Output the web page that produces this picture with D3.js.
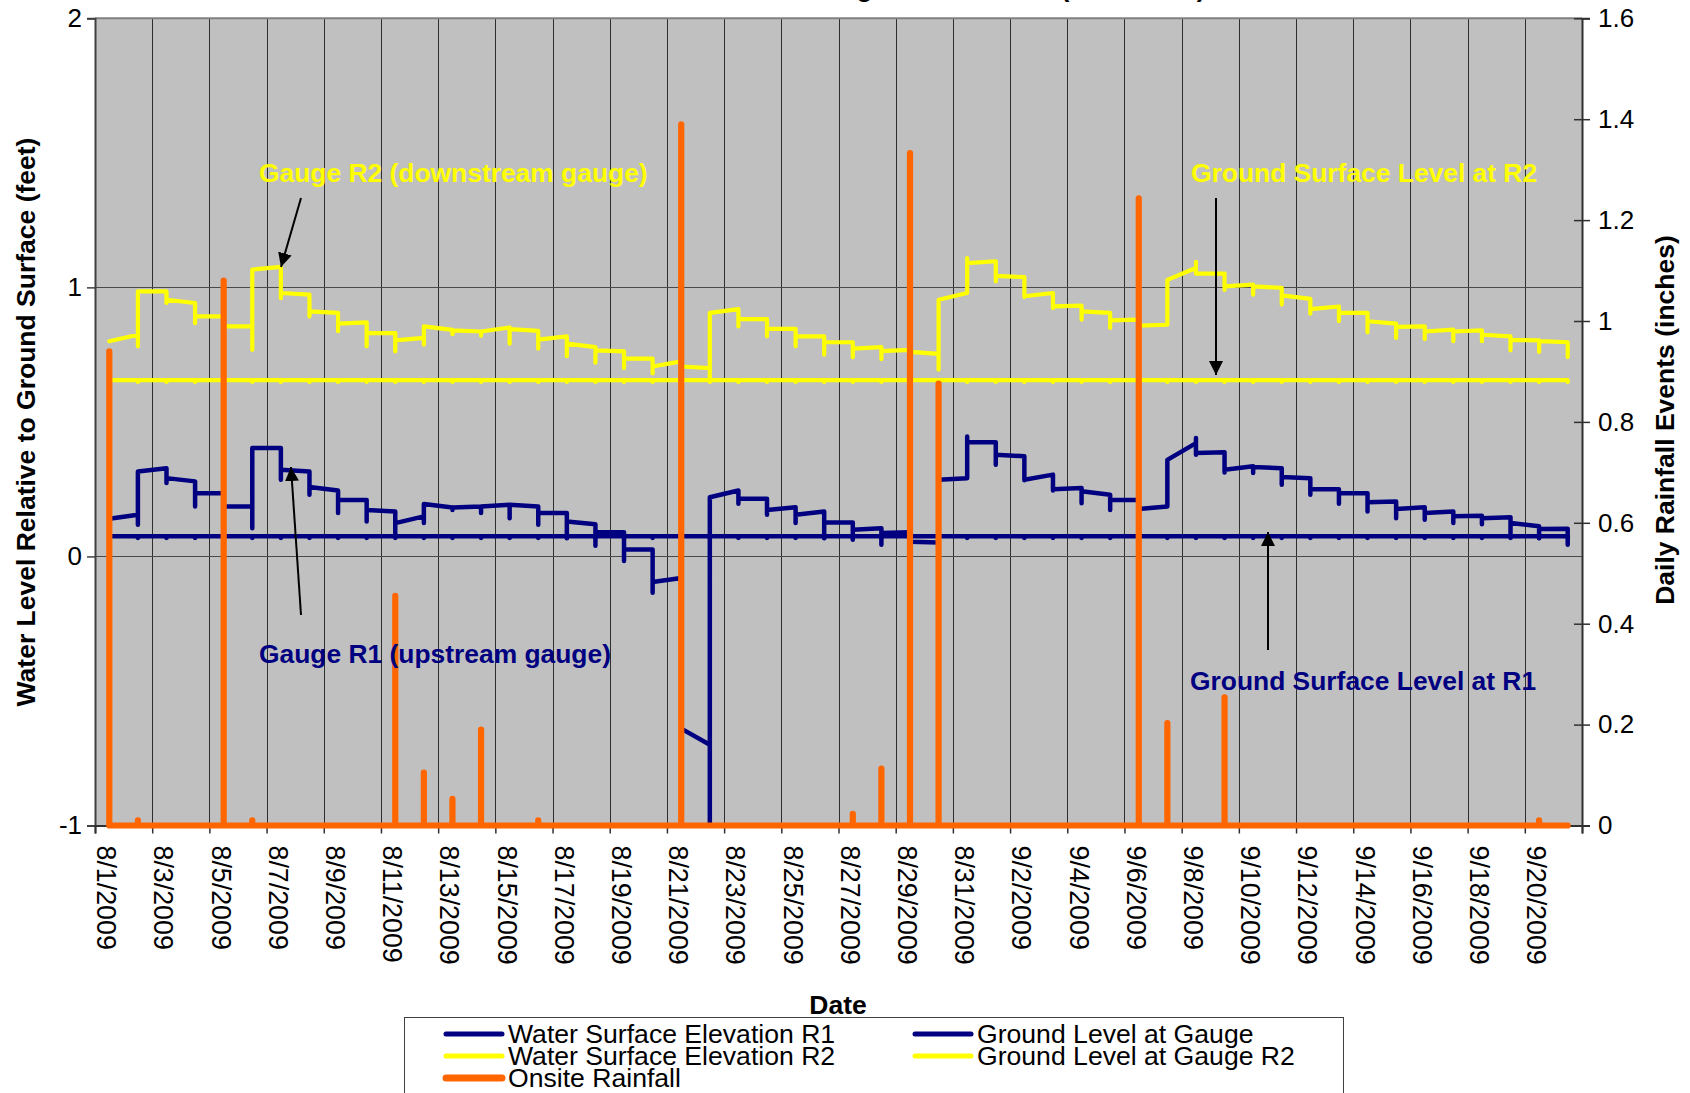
<!DOCTYPE html>
<html>
<head>
<meta charset="utf-8">
<script src="https://cdn.jsdelivr.net/npm/d3@7"></script>
<style>
  body { margin: 0; background: #ffffff; }
  svg { display: block; }
  text { font-family: "Liberation Sans", Arial, Helvetica, sans-serif; }
</style>
</head>
<body>
<svg id="chart" width="1690" height="1093"></svg>
<script>
// ---- Data -------------------------------------------------------------
// Calendar days of the record (one slot per day on the date axis)
const days = [
  "2009-08-01","2009-08-02","2009-08-03","2009-08-04","2009-08-05","2009-08-06","2009-08-07",
  "2009-08-08","2009-08-09","2009-08-10","2009-08-11","2009-08-12","2009-08-13","2009-08-14",
  "2009-08-15","2009-08-16","2009-08-17","2009-08-18","2009-08-19","2009-08-20","2009-08-21",
  "2009-08-22","2009-08-23","2009-08-24","2009-08-25","2009-08-26","2009-08-27","2009-08-28",
  "2009-08-29","2009-08-30","2009-08-31","2009-09-01","2009-09-02","2009-09-03","2009-09-04",
  "2009-09-05","2009-09-06","2009-09-07","2009-09-08","2009-09-09","2009-09-10","2009-09-11",
  "2009-09-12","2009-09-13","2009-09-14","2009-09-15","2009-09-16","2009-09-17","2009-09-18",
  "2009-09-19","2009-09-20","2009-09-21"
];

// Water surface at R1 (ft relative to ground), readings of each day in logged order
const r1Readings = [
  [0.14], [0.155, 0.118, 0.316], [0.328, 0.273, 0.291], [0.279, 0.186, 0.235],
  [0.235, 0.186], [0.186, 0.105, 0.403], [0.403, 0.285, 0.322], [0.316, 0.229, 0.258],
  [0.245, 0.161, 0.21], [0.21, 0.13, 0.173], [0.167, 0.074, 0.124], [0.149, 0.124, 0.195],
  [0.182, 0.173, 0.182], [0.186, 0.161, 0.186], [0.192, 0.142, 0.192], [0.186, 0.118, 0.161],
  [0.161, 0.068, 0.13], [0.12, 0.04, 0.09], [0.09, -0.017, 0.026], [0.026, -0.135, -0.095],
  [-0.08, -0.64], [-0.70, -1.0, 0.22], [0.245, 0.196, 0.214], [0.214, 0.155, 0.173],
  [0.183, 0.124, 0.155], [0.167, 0.068, 0.126], [0.126, 0.062, 0.099], [0.105, 0.043, 0.087],
  [0.09, 0.055], [0.052, 0.285], [0.291, 0.446, 0.424], [0.424, 0.341, 0.378],
  [0.372, 0.283, 0.285], [0.304, 0.245, 0.25], [0.254, 0.198, 0.242], [0.229, 0.173, 0.21],
  [0.21, 0.176], [0.186, 0.359], [0.421, 0.44, 0.378, 0.384], [0.387, 0.312, 0.322],
  [0.335, 0.31, 0.332], [0.328, 0.266, 0.295], [0.291, 0.229, 0.25], [0.25, 0.196, 0.235],
  [0.235, 0.167, 0.201], [0.204, 0.142, 0.176], [0.183, 0.136, 0.161], [0.167, 0.124, 0.149],
  [0.151, 0.12, 0.142], [0.146, 0.072, 0.124], [0.112, 0.068, 0.102], [0.103, 0.043]
];

// Water surface at R2 (ft relative to ground)
const r2Readings = [
  [0.80], [0.824, 0.781, 0.985], [0.985, 0.942, 0.954], [0.942, 0.867, 0.892],
  [0.892, 0.855], [0.855, 0.768, 1.066], [1.076, 0.96, 0.979], [0.973, 0.892, 0.911],
  [0.905, 0.837, 0.865], [0.87, 0.781, 0.83], [0.83, 0.762, 0.803], [0.812, 0.787, 0.855],
  [0.842, 0.826, 0.84], [0.836, 0.82, 0.836], [0.851, 0.79, 0.845], [0.838, 0.772, 0.806],
  [0.818, 0.744, 0.791], [0.778, 0.72, 0.766], [0.762, 0.70, 0.735], [0.735, 0.68, 0.706],
  [0.725, 0.706], [0.70, 0.651, 0.905], [0.919, 0.855, 0.882], [0.882, 0.818, 0.846],
  [0.846, 0.781, 0.818], [0.818, 0.75, 0.796], [0.796, 0.74, 0.772], [0.778, 0.733, 0.763],
  [0.768, 0.76], [0.753, 0.694, 0.954], [0.979, 1.109, 1.09], [1.097, 1.022, 1.043],
  [1.038, 0.964, 0.967], [0.979, 0.923, 0.929], [0.932, 0.88, 0.911], [0.905, 0.849, 0.877],
  [0.88, 0.858], [0.861, 1.028], [1.072, 1.095, 1.051], [1.051, 0.991, 1.004],
  [1.01, 0.973, 1.004], [0.998, 0.936, 0.97], [0.957, 0.902, 0.919], [0.929, 0.874, 0.905],
  [0.905, 0.833, 0.874], [0.865, 0.812, 0.853], [0.855, 0.808, 0.836], [0.843, 0.80, 0.836],
  [0.84, 0.80, 0.824], [0.818, 0.766, 0.805], [0.803, 0.76, 0.80], [0.796, 0.741]
];

// Ground surface at each gauge (ft, same datum)
const groundR1 = 0.075;
const groundR2 = 0.655;

// Daily onsite rainfall (inches)
const rainfall = [
  0.94, 0.01, 0, 0, 1.08, 0.01, 0, 0, 0, 0,
  0.455, 0.105, 0.053, 0.19, 0, 0.01, 0, 0, 0, 0,
  1.39, 0, 0, 0, 0, 0, 0.023, 0.113, 1.333, 0.876,
  0, 0, 0, 0, 0, 0, 1.243, 0.203, 0, 0.254,
  0, 0, 0, 0, 0, 0, 0, 0, 0, 0,
  0.01, 0
];

const leftTicks = [-1, 0, 1, 2];
const rightTicks = [0, 0.2, 0.4, 0.6, 0.8, 1, 1.2, 1.4, 1.6];

// ---- Layout -----------------------------------------------------------
const W = 1690, H = 1093;
const L = 95, R = 1582, T = 18.3, B = 825.5;
const NAVY = "#000080", YELLOW = "#FFFF00", ORANGE = "#FF6600";

const svg = d3.select("#chart");
const parse = d3.utcParse("%Y-%m-%d");
const dayDates = days.map(parse);
const endDate = d3.utcDay.offset(dayDates[dayDates.length - 1], 1);

const x = d3.scaleUtc().domain([dayDates[0], endDate]).range([L, R]);
const yL = d3.scaleLinear().domain([-1, 2]).range([B, T]);
const yR = d3.scaleLinear().domain([0, 1.6]).range([B, T]);
const xc = i => x(d3.utcHour.offset(dayDates[i], 12));   // centre of a day slot

// every second day boundary carries a gridline / tick
const gridDates = d3.utcDay.range(dayDates[0], d3.utcDay.offset(endDate, 1), 2);
const labelIdx = days.map((d, i) => i).filter(i => i % 2 === 0);
const fmt = d3.utcFormat("%-m/%-d/%Y");

// ---- Plot area ----------------------------------------------------------
svg.append("rect").attr("width", W).attr("height", H).attr("fill", "#ffffff");
svg.append("rect").attr("x", L).attr("y", T).attr("width", R - L).attr("height", B - T)
  .attr("fill", "#C0C0C0");

// chart title, mostly above the top edge of the page
svg.append("text").attr("x", 958).attr("y", -3.5).attr("text-anchor", "middle")
  .attr("font-size", 26).attr("font-weight", "bold").attr("fill", "#000")
  .text("Stream Gauge Water Levels (R1 and R2)");

// vertical gridlines
svg.append("g").selectAll("line").data(gridDates.slice(1, -1)).join("line")
  .attr("x1", d => Math.round(x(d)) + 0.5).attr("x2", d => Math.round(x(d)) + 0.5)
  .attr("y1", T).attr("y2", B).attr("stroke", "#2e2e2e").attr("stroke-width", 1);

// horizontal gridlines (primary axis major unit)
svg.append("g").selectAll("line").data([0, 1]).join("line")
  .attr("x1", L).attr("x2", R)
  .attr("y1", d => Math.round(yL(d)) + 0.5).attr("y2", d => Math.round(yL(d)) + 0.5)
  .attr("stroke", "#4a4a4a").attr("stroke-width", 1);

// top border of plot area
svg.append("line").attr("x1", L).attr("x2", R).attr("y1", T).attr("y2", T)
  .attr("stroke", "#808080").attr("stroke-width", 2);

// ---- Axes ------------------------------------------------------------------
const axisFont = g => g.selectAll("text").attr("font-size", 26).attr("fill", "#000")
  .style("font-family", "'Liberation Sans', Arial, sans-serif");

const gl = svg.append("g").attr("transform", `translate(${L},0)`)
  .call(d3.axisLeft(yL).tickValues(leftTicks).tickSize(8).tickPadding(5).tickFormat(d => String(d)));
gl.select(".domain").attr("stroke", "#404040").attr("stroke-width", 2);
gl.selectAll(".tick line").attr("stroke", "#404040").attr("stroke-width", 1.5);
axisFont(gl);

const gr = svg.append("g").attr("transform", `translate(${R},0)`)
  .call(d3.axisRight(yR).tickValues(rightTicks).tickSize(8).tickPadding(8).tickFormat(d => String(+d.toFixed(1))));
gr.select(".domain").attr("stroke", "#303030").attr("stroke-width", 2);
gr.selectAll(".tick line").attr("stroke", "#303030").attr("stroke-width", 1.5);
axisFont(gr);
// inner half of the crossing tick marks
const gr2 = svg.append("g").attr("transform", `translate(${R},0)`)
  .call(d3.axisLeft(yR).tickValues(rightTicks).tickSize(8).tickFormat(""));
gr2.select(".domain").remove();
gr2.selectAll(".tick line").attr("stroke", "#303030").attr("stroke-width", 1.5);

const gb = svg.append("g").attr("transform", `translate(0,${B})`)
  .call(d3.axisBottom(x).tickValues(gridDates).tickSize(8).tickFormat(""));
gb.select(".domain").attr("stroke", "#303030").attr("stroke-width", 2);
gb.selectAll(".tick line").attr("stroke", "#303030").attr("stroke-width", 1.5);

// rotated date labels
svg.append("g").selectAll("text").data(labelIdx).join("text")
  .attr("transform", i => `translate(${xc(i) - 3},${B + 20}) rotate(90)`)
  .attr("dominant-baseline", "central").attr("text-anchor", "start")
  .attr("font-size", 26.8).attr("fill", "#000")
  .text(i => fmt(dayDates[i]));

// axis titles
svg.append("text").attr("transform", `translate(35,422) rotate(-90)`)
  .attr("text-anchor", "middle").attr("font-size", 26.5).attr("font-weight", "bold")
  .text("Water Level Relative to Ground Surface (feet)");
svg.append("text").attr("transform", `translate(1674,420) rotate(-90)`)
  .attr("text-anchor", "middle").attr("font-size", 26.5).attr("font-weight", "bold")
  .text("Daily Rainfall Events (inches)");
svg.append("text").attr("x", 838).attr("y", 1014).attr("text-anchor", "middle")
  .attr("font-size", 26.5).attr("font-weight", "bold").text("Date");

// ---- Series --------------------------------------------------------------
const line = d3.line().x(d => d[0]).y(d => d[1]);
const series = svg.append("g").attr("fill", "none")
  .attr("stroke-linejoin", "round").attr("stroke-linecap", "round");

function stepPoints(readings, scale) {
  return readings.flatMap((vals, i) => vals.map(v => [xc(i), scale(v)]));
}
function groundPoints(level) {
  return days.map((d, i) => [xc(i), yL(level)]);
}

// R1 water surface and ground level
series.append("path").attr("d", line(stepPoints(r1Readings, yL)))
  .attr("stroke", NAVY).attr("stroke-width", 4.5);
series.append("path").attr("d", line(groundPoints(groundR1)))
  .attr("stroke", NAVY).attr("stroke-width", 4.5);
series.append("g").selectAll("circle").data(days.map((d, i) => i)).join("circle")
  .attr("cx", i => xc(i)).attr("cy", yL(groundR1) + 1.5).attr("r", 2.4).attr("fill", NAVY);

// R2 water surface and ground level
series.append("path").attr("d", line(stepPoints(r2Readings, yL)))
  .attr("stroke", YELLOW).attr("stroke-width", 4.2);
series.append("path").attr("d", line(groundPoints(groundR2)))
  .attr("stroke", YELLOW).attr("stroke-width", 4.2);
series.append("g").selectAll("circle").data(days.map((d, i) => i)).join("circle")
  .attr("cx", i => xc(i)).attr("cy", yL(groundR2) + 1.5).attr("r", 2.2).attr("fill", YELLOW);

// rainfall on the secondary axis: a spike to each day's total
const rainPts = rainfall.flatMap((v, i) =>
  v > 0 ? [[xc(i), yR(0)], [xc(i), yR(v)], [xc(i), yR(0)]] : [[xc(i), yR(0)]]);
series.append("path").attr("d", line(rainPts))
  .attr("stroke", ORANGE).attr("stroke-width", 6.2);

// ---- Annotations ---------------------------------------------------------
const defs = svg.append("defs");
defs.append("marker").attr("id", "head").attr("viewBox", "0 0 10 10")
  .attr("refX", 10).attr("refY", 5).attr("markerWidth", 14).attr("markerHeight", 14)
  .attr("markerUnits", "userSpaceOnUse").attr("orient", "auto")
  .append("path").attr("d", "M0,0 L10,5 L0,10 Z").attr("fill", "#000");

const notes = [
  { text: "Gauge R2 (downstream gauge)", x: 259, y: 182, color: YELLOW },
  { text: "Gauge R1 (upstream gauge)", x: 259, y: 663, color: NAVY },
  { text: "Ground Surface Level at R2", x: 1191, y: 182, color: YELLOW },
  { text: "Ground Surface Level at R1", x: 1190, y: 690, color: NAVY }
];
svg.append("g").selectAll("text").data(notes).join("text")
  .attr("x", d => d.x).attr("y", d => d.y).attr("fill", d => d.color)
  .attr("font-size", 26.4).attr("font-weight", "bold").text(d => d.text);

const arrows = [
  [301, 198, 281, 267],
  [301, 615, 291, 467],
  [1216, 198, 1216, 375],
  [1268, 650, 1268, 532]
];
svg.append("g").selectAll("line").data(arrows).join("line")
  .attr("x1", d => d[0]).attr("y1", d => d[1]).attr("x2", d => d[2]).attr("y2", d => d[3])
  .attr("stroke", "#000").attr("stroke-width", 2).attr("marker-end", "url(#head)");

// ---- Legend ----------------------------------------------------------------
const lg = svg.append("g");
lg.append("rect").attr("x", 404.5).attr("y", 1017.5).attr("width", 939).attr("height", 120)
  .attr("fill", "#ffffff").attr("stroke", "#404040").attr("stroke-width", 1);
const legendItems = [
  { label: "Water Surface Elevation R1", color: NAVY, w: 5, col: 0, row: 0 },
  { label: "Ground Level at Gauge", color: NAVY, w: 5, col: 1, row: 0 },
  { label: "Water Surface Elevation R2", color: YELLOW, w: 5, col: 0, row: 1 },
  { label: "Ground Level at Gauge R2", color: YELLOW, w: 5, col: 1, row: 1 },
  { label: "Onsite Rainfall", color: ORANGE, w: 7, col: 0, row: 2 }
];
const colX = [446, 915];
const rowY = [1034, 1056, 1078];
const li = lg.selectAll("g").data(legendItems).join("g")
  .attr("transform", d => `translate(${colX[d.col]},${rowY[d.row]})`);
li.append("line").attr("x1", 0).attr("x2", 56).attr("y1", 0).attr("y2", 0)
  .attr("stroke", d => d.color).attr("stroke-width", d => d.w).attr("stroke-linecap", "round");
li.append("text").attr("x", 62).attr("y", 9).attr("font-size", 26.6).attr("fill", "#000")
  .text(d => d.label);
</script>
</body>
</html>
